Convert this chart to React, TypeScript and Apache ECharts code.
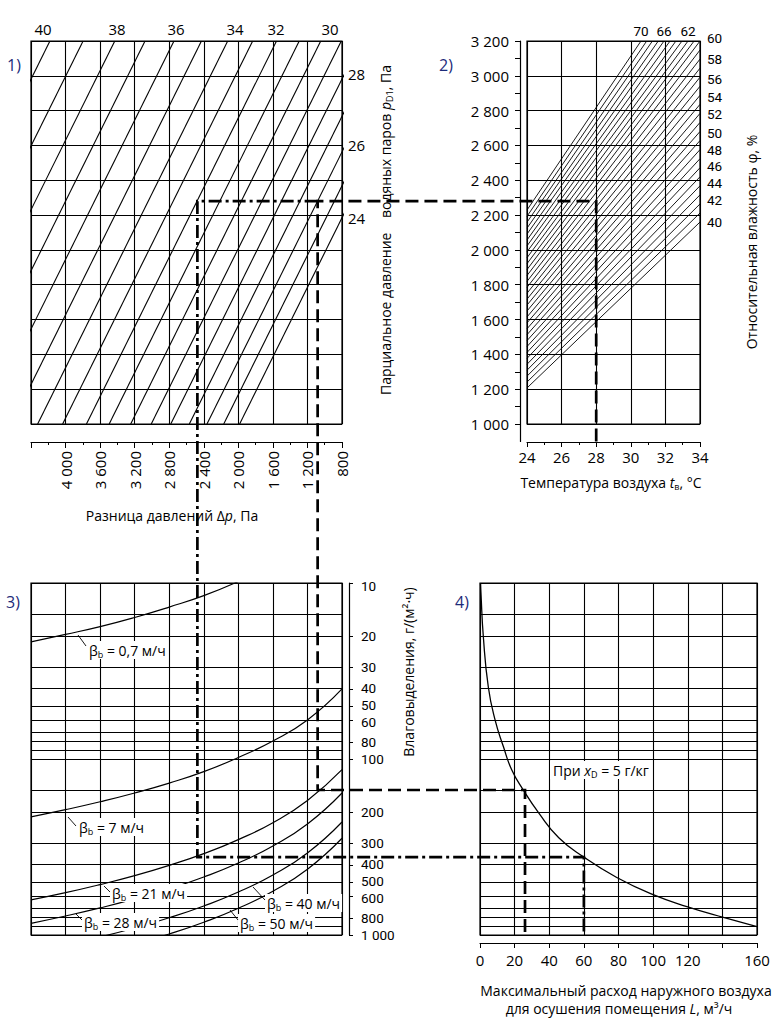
import React, { useEffect, useRef } from 'react';
import * as echarts from 'echarts';

// ---------------- data ----------------
// Panel 1) lines of constant temperature (°C): Δp (Pa) where each line meets p = 1000 Pa and p = 3200 Pa
const tempLineValues = [24, 25, 26, 27, 28, 29, 30, 31, 32, 33, 34, 35, 36, 37, 38, 39, 40];
const tempLineDpAt1000 = [1985, 2169, 2363, 2567, 2782, 3008, 3246, 3495, 3758, 4034, 4323, 4627, 4945, 5280, 5630, 5997, 6381];
const tempLineDpAt3200 = [-215, -31, 163, 367, 582, 808, 1046, 1295, 1558, 1834, 2123, 2427, 2745, 3080, 3430, 3797, 4181];
const tempTopLabels = ['40', '38', '36', '34', '32', '30'];
const tempRightLabels = ['28', '26', '24'];
const dpTickLabels = [800, 1200, 1600, 2000, 2400, 2800, 3200, 3600, 4000];

// Panel 2) relative humidity lines (%): p at t = 24 °C, and end point (t, p) on the right / top edge
const rhLineValues = [40, 41, 42, 43, 44, 45, 46, 47, 48, 49, 50, 51, 52, 53, 54, 55, 56, 57, 58, 59, 60, 61, 62, 63, 64, 65, 66, 67, 68, 69, 70];
const rhStartP = [1207, 1241, 1275, 1309, 1343, 1377, 1411, 1445, 1479, 1513, 1547, 1581, 1615, 1649, 1683, 1717, 1751, 1785, 1819, 1853, 1887, 1921, 1955, 1989, 2023, 2057, 2091, 2125, 2159, 2193, 2229];
const rhEndT = [34, 34, 34, 34, 34, 34, 34, 34, 34, 34, 34, 34, 34, 34, 34, 34, 34, 34, 34, 34, 34, 33.66, 33.31, 32.96, 32.61, 32.27, 31.92, 31.59, 31.25, 30.92, 30.59];
const rhEndP = [2160, 2212, 2264, 2316, 2368, 2420, 2472, 2524, 2576, 2628, 2680, 2732, 2784, 2836, 2888, 2940, 2992, 3044, 3096, 3148, 3200, 3200, 3200, 3200, 3200, 3200, 3200, 3200, 3200, 3200, 3200];
const rhRightLabels = ['60', '58', '56', '54', '52', '50', '48', '46', '44', '42', '40'];
const rhTopLabels = ['70', '66', '62'];
const pTickLabels = [1000, 1200, 1400, 1600, 1800, 2000, 2200, 2400, 2600, 2800, 3000, 3200];
const pMinorTicks = [1000, 1100, 1200, 1300, 1400, 1500, 1600, 1700, 1800, 1900, 2000, 2100, 2200, 2300, 2400, 2500, 2600, 2700, 2800, 2900, 3000, 3100, 3200];

// Panel 3) moisture release W (g/(m²·h)) vs Δp for evaporation coefficients β
const betaDp = [4400, 4000, 3600, 3200, 2800, 2400, 2000, 1600, 1200, 800];
const beta07 = [21.6, 19.6, 17.7, 15.7, 13.7, 11.8, 9.8, 7.9, 5.9, 3.9];
const beta7 = [213, 194, 175, 156, 137, 118, 98, 79, 60, 40];
const beta21 = [632, 575, 517, 460, 402, 345, 287, 230, 172, 115];
const beta28 = [858, 780, 702, 624, 546, 468, 390, 312, 234, 156];
const beta40 = [1254, 1140, 1026, 912, 798, 684, 570, 456, 342, 228];
const beta50 = [1551, 1410, 1269, 1128, 987, 846, 705, 564, 423, 282];
const betaLabels = ['0,7', '7', '21', '28', '40', '50'];
const wGridValues = [10, 15, 20, 30, 40, 50, 60, 70, 80, 90, 100, 150, 200, 300, 400, 500, 600, 700, 800, 900, 1000];
const wTickLabels = [10, 20, 30, 40, 50, 60, 80, 100, 200, 300, 400, 500, 600, 800, 1000];

// Panel 4) max outdoor air flow L (m³/h) vs W, at x_D = 5 g/kg
const curveW = [10, 11.7, 20, 39, 60, 85, 115, 150, 203, 280, 361, 471, 590, 690, 795, 895];
const curveL = [0.3, 0.6, 1.9, 4.8, 8.7, 13.5, 18.3, 25, 34, 45.5, 60, 79, 100, 119.5, 140.6, 160];
const lTickLabels = [0, 20, 40, 60, 80, 100, 120, 160];

// Worked example (guide lines)
const guideT = 28;
const guidePD = 2280;
const guideDpDashed = 1082;
const guideDpDashDot = 2474;
const guideWDashed = 150;
const guideWDashDot = 361;
const guideLDashed = 26;
const guideLDashDot = 60;

// ---------------- styles ----------------
const FONT = '"Open Sans", "Noto Sans", sans-serif';
const FONT_TIGHT = 'Roboto, "Open Sans", sans-serif';
const INK = '#000000';
const NAVY = '#1d2b7a';
const FS = 14;

const lg = (v: number) => Math.log10(v);
const fmt = (v: number) => {
  const n = Math.round(v);
  if (n >= 1000) return `${Math.floor(n / 1000)} ${String(n % 1000).padStart(3, '0')}`;
  return String(n);
};

const splitOn = { show: true, lineStyle: { color: INK, width: 1.1 } };
const axisText = { color: INK, fontSize: 15, fontFamily: FONT };
const noAxis = { axisLine: { show: false }, axisTick: { show: false }, axisLabel: { show: false } };

function buildOption(): any {
  const gridBase = { show: true, borderColor: INK, borderWidth: 1.2, backgroundColor: 'transparent', containLabel: false, outerBoundsMode: 'none' };
  const lineBase = { type: 'line', symbol: 'none', silent: true, clip: true, animation: false };

  const series: any[] = [];
  tempLineValues.forEach((t, i) => {
    series.push({
      ...lineBase, name: `t${t}`, xAxisIndex: 0, yAxisIndex: 0,
      lineStyle: { color: INK, width: 1.1 },
      data: [[tempLineDpAt1000[i], 1000], [tempLineDpAt3200[i], 3200]],
    });
  });
  rhLineValues.forEach((r, i) => {
    series.push({
      ...lineBase, name: `phi${r}`, xAxisIndex: 1, yAxisIndex: 1,
      lineStyle: { color: INK, width: 0.9 },
      data: [[24, rhStartP[i]], [rhEndT[i], rhEndP[i]]],
    });
  });
  const markGrid = {
    silent: true, symbol: ['none', 'none'], label: { show: false },
    lineStyle: { color: INK, width: 1.1, type: 'solid' },
    emphasis: { disabled: true },
    data: wGridValues.map((v) => ({ yAxis: lg(v) })),
  };
  const betas = [beta07, beta7, beta21, beta28, beta40, beta50];
  betas.forEach((arr, k) => {
    series.push({
      ...lineBase, name: `beta${betaLabels[k]}`, xAxisIndex: 3, yAxisIndex: 3, smooth: true,
      lineStyle: { color: INK, width: 1.2 },
      data: betaDp.map((d, j) => [d, lg(arr[j])]),
      ...(k === 0 ? { markLine: markGrid } : {}),
    });
  });
  series.push({
    ...lineBase, name: 'L', xAxisIndex: 4, yAxisIndex: 4, smooth: true,
    lineStyle: { color: INK, width: 1.3 },
    data: curveL.map((l, j) => [l, lg(curveW[j])]),
    markLine: markGrid,
  });
  series.push({ ...lineBase, name: 'axisHolder', xAxisIndex: 2, yAxisIndex: 2, data: [], lineStyle: { opacity: 0 } });

  return {
    animation: false,
    backgroundColor: '#ffffff',
    textStyle: { fontFamily: FONT },
    grid: [
      { ...gridBase, left: 31, top: 41, width: 311, height: 383 },
      { ...gridBase, left: 527, top: 41, width: 173, height: 383 },
      { ...gridBase, show: false, left: 520, top: 41, width: 7, height: 400.4 },
      { ...gridBase, left: 31, top: 583, width: 311, height: 352 },
      { ...gridBase, left: 480, top: 583, width: 277, height: 352 },
    ],
    xAxis: [
      {
        gridIndex: 0, type: 'value', min: 800, max: 4400, interval: 400, inverse: true, position: 'bottom', offset: 18,
        axisLine: { show: true, onZero: false, lineStyle: { color: INK, width: 1.2 } },
        axisTick: { show: true, length: 6, lineStyle: { color: INK } },
        minorTick: { show: true, splitNumber: 2, length: 3, lineStyle: { color: INK } },
        axisLabel: { ...axisText, rotate: 90, margin: 9, customValues: dpTickLabels, formatter: (v: number) => fmt(v) },
        splitLine: splitOn, minorSplitLine: { show: false },
      },
      {
        gridIndex: 1, type: 'value', min: 24, max: 34, interval: 2, position: 'bottom', offset: 18,
        axisLine: { show: true, onZero: false, lineStyle: { color: INK, width: 1.2 } },
        axisTick: { show: true, length: 5, lineStyle: { color: INK } },
        minorTick: { show: true, splitNumber: 2, length: 3, lineStyle: { color: INK } },
        axisLabel: { ...axisText, margin: 7 },
        splitLine: splitOn,
      },
      { gridIndex: 2, type: 'value', min: 0, max: 1, show: false },
      {
        gridIndex: 3, type: 'value', min: 800, max: 4400, interval: 400, inverse: true, ...noAxis,
        splitLine: splitOn,
      },
      {
        gridIndex: 4, type: 'value', min: 0, max: 160, interval: 20, position: 'bottom', offset: 8,
        axisLine: { show: true, onZero: false, lineStyle: { color: INK, width: 1.2 } },
        axisTick: { show: true, length: 5, lineStyle: { color: INK } },
        axisLabel: { ...axisText, margin: 9, customValues: lTickLabels },
        splitLine: splitOn,
      },
    ],
    yAxis: [
      { gridIndex: 0, type: 'value', min: 1000, max: 3200, interval: 200, ...noAxis, splitLine: splitOn },
      { gridIndex: 1, type: 'value', min: 1000, max: 3200, interval: 200, ...noAxis, splitLine: splitOn },
      {
        gridIndex: 2, type: 'value', min: 900, max: 3200, position: 'left',
        axisLine: { show: true, onZero: false, lineStyle: { color: INK, width: 1.2 } },
        axisTick: { show: true, length: 5, customValues: pMinorTicks, lineStyle: { color: INK } },
        axisLabel: { ...axisText, margin: 11, customValues: pTickLabels, formatter: (v: number) => fmt(v) },
        splitLine: { show: false },
      },
      {
        gridIndex: 3, type: 'value', min: 1, max: 3, inverse: true, position: 'right', offset: 7,
        axisLine: { show: true, onZero: false, lineStyle: { color: INK, width: 1.2 } },
        axisTick: { show: true, length: 4, customValues: wTickLabels.map(lg), lineStyle: { color: INK } },
        axisLabel: { show: false },
        splitLine: { show: false },
      },
      { gridIndex: 4, type: 'value', min: 1, max: 3, inverse: true, ...noAxis, splitLine: { show: false } },
    ],
    series,
  };
}

function buildGraphics(chart: any): any[] {
  const px = (xi: number, yi: number, v: number[]) => chart.convertToPixel({ xAxisIndex: xi, yAxisIndex: yi }, v) as number[];
  const p1 = (dp: number, p: number) => px(0, 0, [dp, p]);
  const p2 = (t: number, p: number) => px(1, 1, [t, p]);
  const p3 = (dp: number, w: number) => px(3, 3, [dp, lg(w)]);
  const p4 = (l: number, w: number) => px(4, 4, [l, lg(w)]);

  const g: any[] = [];
  const Z = 60;
  const rich = {
    i: { fontStyle: 'italic', fontSize: FS, fontFamily: FONT, lineHeight: 18 },
    s: { fontSize: 9, fontFamily: FONT, verticalAlign: 'bottom', lineHeight: 10 },
  };
  const text = (t: string, x: number, y: number, opts: any = {}) => {
    const { align = 'center', rotation = 0, size = FS, color = INK, bg, padding, lh = 18, family = FONT } = opts;
    g.push({
      type: 'text', x, y, rotation, z: Z + 2,
      style: {
        text: t, fill: color, fontSize: size, fontFamily: family, lineHeight: lh,
        align, verticalAlign: 'middle', textAlign: align, textVerticalAlign: 'middle',
        rich, ...(bg ? { backgroundColor: bg, padding: padding || [0, 2] } : {}),
      },
    });
  };
  const seg = (x1: number, y1: number, x2: number, y2: number, w = 1) => {
    g.push({ type: 'line', z: Z + 3, shape: { x1, y1, x2, y2 }, style: { stroke: INK, lineWidth: w } });
  };

  // guide lines
  const A = p2(guideT, 900), B = p2(guideT, guidePD), C = p1(guideDpDashed, guidePD);
  const D = p3(guideDpDashed, guideWDashed), E = p4(guideLDashed, guideWDashed), F = p4(guideLDashed, 1000);
  g.push({
    type: 'polyline', z: Z, shape: { points: [A, B, C, D, E, F] },
    style: { stroke: '#000', fill: null, lineWidth: 2.7, lineDash: [13, 6] },
  });
  const G = p1(guideDpDashDot, guidePD), H = p3(guideDpDashDot, guideWDashDot);
  const I = p4(guideLDashDot, guideWDashDot), J = p4(guideLDashDot, 1000);
  g.push({
    type: 'polyline', z: Z, shape: { points: [C, G, H, I, J] },
    style: { stroke: '#000', fill: null, lineWidth: 2.7, lineDash: [13, 4, 3, 4] },
  });

  // panel 3 right-axis labels (positioned through the axis scale, tightly packed ones nudged apart)
  const nudge: Record<number, number> = { 10: 3, 40: -1, 50: -1, 60: 2, 400: -1, 500: -1, 600: 2 };
  const axisX = p3(800, 10)[0] + 19;
  wTickLabels.forEach((w) => {
    const y = p3(800, w)[1] + (nudge[w] || 0);
    text(fmt(w), axisX, y, { align: 'left', size: 13.5, lh: 12, family: FONT_TIGHT });
  });

  // panel numbers
  text('1)', 14, 65, { color: NAVY, size: 16 });
  text('2)', 446, 65, { color: NAVY, size: 16 });
  text('3)', 13, 602, { color: NAVY, size: 16 });
  text('4)', 462, 602, { color: NAVY, size: 16 });

  // panel 1 temperature labels
  const topX = [43, 117, 176, 235, 276, 330];
  tempTopLabels.forEach((s, i) => text(s, topX[i], 29, { size: 15 }));
  const rightY = [74, 145, 218];
  tempRightLabels.forEach((s, i) => text(s, 348, rightY[i], { align: 'left', size: 15 }));

  // panel 2 humidity labels
  const rhY = [38, 59, 79, 97, 114, 133, 150, 166, 183, 200, 222];
  rhRightLabels.forEach((s, i) => text(s, 707, rhY[i], { align: 'left', size: 13.5, lh: 12, family: FONT_TIGHT }));
  const rhTopX = [641, 664, 688];
  rhTopLabels.forEach((s, i) => text(s, rhTopX[i], 31, { size: 13.5, lh: 14, family: FONT_TIGHT }));

  // axis titles
  text('Разница давлений Δ{i|p}, Па', 172, 515);
  text('Температура воздуха {i|t}{s|в}, °C', 611, 482);
  text('Парциальное давление    водяных паров {i|p}{s|D1}, Па', 385, 230, { rotation: Math.PI / 2 });
  text('Относительная влажность φ, %', 751, 242, { rotation: Math.PI / 2 });
  text('Влаговыделения, г/(м²·ч)', 408, 672, { rotation: Math.PI / 2 });
  text('Максимальный расход наружного воздуха', 626, 990);
  text('для осушения помещения {i|L}, м³/ч', 619, 1008);
  text('При {i|x}{s|D} = 5 г/кг', 550, 770, { align: 'left', bg: '#fff', padding: [0, 3] });

  // beta labels with leaders
  const bPos = [[87, 650], [77, 827], [110, 893], [82, 922], [265, 903], [238, 923]];
  const bLead = [[78, 635, 86, 646], [68, 817, 76, 826], [104, 886, 110, 892], [76, 914, 82, 920], [253, 887, 265, 900], [230, 910, 238, 920]];
  betaLabels.forEach((s, k) => {
    text(`β{s|b} = ${s} м/ч`, bPos[k][0], bPos[k][1], { align: 'left', bg: '#fff', padding: [0, 2] });
    seg(bLead[k][0], bLead[k][1], bLead[k][2], bLead[k][3], 0.9);
  });

  return g;
}

export default function App() {
  const ref = useRef<HTMLDivElement>(null);
  useEffect(() => {
    if (!ref.current) return;
    const chart = echarts.init(ref.current, null, { renderer: 'svg' });
    chart.setOption(buildOption());
    chart.setOption({ graphic: buildGraphics(chart) });
    return () => chart.dispose();
  }, []);
  return (
    <div
      ref={ref}
      style={{ position: 'fixed', left: 0, top: 0, width: 776, height: 1024, background: '#fff' }}
    />
  );
}
